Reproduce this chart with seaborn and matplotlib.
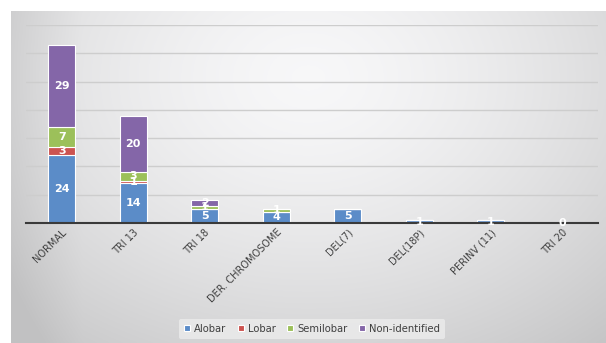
import numpy as np
import pandas as pd
import matplotlib
matplotlib.use("Agg")
import matplotlib.pyplot as plt
import seaborn as sns

categories = ["NORMAL", "TRI 13", "TRI 18", "DER. CHROMOSOME", "DEL(7)",
              "DEL(18P)", "PERINV (11)", "TRI 20"]
alobar = [24, 14, 5, 4, 5, 1, 1, 0]
lobar = [3, 1, None, None, None, None, None, None]
semilobar = [7, 3, 1, 1, None, None, None, None]
non_identified = [29, 20, 2, None, None, None, None, None]

series_names = ["Alobar", "Lobar", "Semilobar", "Non-identified"]
series_values = [alobar, lobar, semilobar, non_identified]
colors = ["#5b8cc8", "#cc5350", "#9cc05a", "#8466a8"]

sns.set_theme(style="white")
plt.rcParams["font.family"] = ["DejaVu Sans"]

fig = plt.figure(figsize=(6.06, 3.43), dpi=100)
fig.patch.set_facecolor("white")

# gradient backdrop for the chart area
bg = fig.add_axes([11 / 606, 0, 1 - 11 / 606, 1 - 11 / 343])
ny, nx = 200, 400
yy, xx = np.mgrid[0:1:ny * 1j, 0:1:nx * 1j]
d = np.sqrt(((xx - 0.5) / 0.7) ** 2 + ((yy - 0.2) / 0.95) ** 2)
shade = 0.97 - 0.17 * np.clip(d, 0, 1.2) ** 1.5
shade = shade - 0.05 * np.clip(1 - xx / 0.12, 0, 1)
shade = np.clip(shade, 0.76, 0.97)
bg.imshow(np.dstack([shade, shade, shade * 1.005]).clip(0, 1), aspect="auto",
          extent=[0, 1, 0, 1], origin="upper")
bg.set_axis_off()

ax = fig.add_axes([26 / 606, 1 - 223 / 343, 572 / 606, 198 / 343])
ax.set_facecolor("none")

rows = []
for name, vals in zip(series_names, series_values):
    for cat, v in zip(categories, vals):
        rows.append({"category": cat, "series": name, "value": v})
df = pd.DataFrame(rows)

bottom = np.zeros(len(categories))
for name, color in zip(series_names, colors):
    sub = df[df["series"] == name].set_index("category").loc[categories]
    vals = sub["value"].astype(float).to_numpy()
    filled = np.nan_to_num(vals)
    sns.barplot(x=categories, y=filled, bottom=bottom, color=color, width=0.38,
                edgecolor="white", linewidth=0.8, ax=ax, label=name,
                saturation=1, order=categories)
    for i, v in enumerate(vals):
        if not np.isnan(v):
            ax.text(i, bottom[i] + v / 2, f"{int(v)}", ha="center", va="center",
                    color="white", fontsize=8, fontweight="bold")
    bottom = bottom + filled

ax.set_ylim(0, 70)
ax.set_xlim(-0.5, len(categories) - 0.5)
ax.set_yticks(range(0, 71, 10))
ax.yaxis.grid(True, color="#cdcdcd", linewidth=1)
ax.set_axisbelow(True)
ax.tick_params(axis="y", left=False, labelleft=False)
ax.tick_params(axis="x", length=0, pad=3, labelsize=7, colors="#404040")
for s in ["top", "right", "left"]:
    ax.spines[s].set_visible(False)
ax.spines["bottom"].set_color("#3a3a3a")
ax.spines["bottom"].set_linewidth(1.5)
plt.setp(ax.get_xticklabels(), rotation=45, ha="right", rotation_mode="anchor")
ax.set_xlabel("")
ax.set_ylabel("")

leg = ax.legend(loc="center", bbox_to_anchor=(0.5, -0.535), ncol=4, frameon=True,
                fontsize=7.2, handlelength=0.55, handleheight=0.55,
                handletextpad=0.4, columnspacing=1.2, borderpad=0.5)
leg.get_frame().set_facecolor("#ececec")
leg.get_frame().set_edgecolor("none")
leg.get_frame().set_alpha(0.8)
for t in leg.get_texts():
    t.set_color("#404040")

fig.savefig("out.png", dpi=100, facecolor="white")
